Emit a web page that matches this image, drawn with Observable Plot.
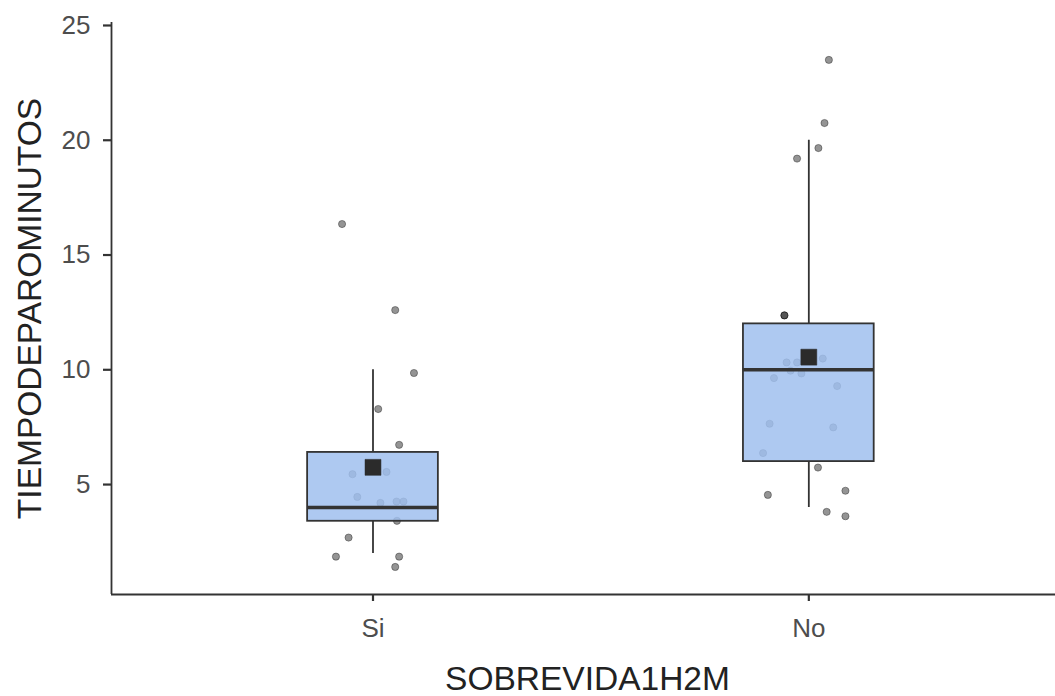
<!DOCTYPE html>
<html>
<head>
<meta charset="utf-8">
<script src="https://cdn.jsdelivr.net/npm/d3@7"></script>
<script src="https://cdn.jsdelivr.net/npm/@observablehq/plot@0.6"></script>
<style>
  html, body { margin: 0; padding: 0; background: #ffffff; }
  #chart svg { display: block; }
</style>
</head>
<body>
<div id="chart"></div>
<script>
// Categories and summary statistics
const categories = ["Si", "No"];
const whiskerLow = [2.0, 4.0];
const quartile1 = [3.4, 6.0];
const medians = [4.0, 10.0];
const quartile3 = [6.4, 12.0];
const whiskerHigh = [10.0, 20.0];
const means = [5.75, 10.55];

// Jittered observations: value and horizontal jitter (category units)
const siValues = [16.35, 12.60, 9.86, 8.29, 6.73, 5.45, 5.55, 4.46, 4.20, 4.26, 4.26, 3.42, 2.69, 1.86, 1.86, 1.41];
const siJitter = [-0.071, 0.051, 0.094, 0.012, 0.060, -0.047, 0.031, -0.036, 0.017, 0.054, 0.070, 0.055, -0.056, -0.085, 0.060, 0.051];
const noValues = [23.50, 20.75, 19.66, 19.20, 12.37, 12.37, 10.32, 10.32, 10.49, 9.96, 9.84, 9.64, 9.29, 7.65, 7.49, 6.37, 5.74, 4.55, 4.73, 3.81, 3.62];
const noJitter = [0.046, 0.036, 0.022, -0.027, -0.056, -0.056, -0.051, -0.027, 0.032, -0.042, -0.017, -0.080, 0.065, -0.090, 0.056, -0.105, 0.021, -0.094, 0.084, 0.041, 0.084];

const yTicks = [5, 10, 15, 20, 25];
const xTitle = "SOBREVIDA1H2M";
const yTitle = "TIEMPODEPAROMINUTOS";

// Build tables
const boxes = categories.map((c, i) => ({
  cat: c, pos: i + 1,
  lo: whiskerLow[i], q1: quartile1[i], med: medians[i], q3: quartile3[i], hi: whiskerHigh[i], mean: means[i]
}));
const points = [
  ...siValues.map((v, j) => ({pos: 1 + siJitter[j], value: v})),
  ...noValues.map((v, j) => ({pos: 2 + noJitter[j], value: v}))
];
const halfWidth = 0.15;
const xDomain = [0.4, 2.566];
const yDomain = [0.21, 25.13];
const axisColor = "#333333";

const chart = Plot.plot({
  width: 1055,
  height: 696,
  marginLeft: 111,
  marginRight: 0,
  marginTop: 22,
  marginBottom: 102,
  style: {fontFamily: "'Liberation Sans', Arial, sans-serif", background: "#ffffff"},
  x: {type: "linear", domain: xDomain},
  y: {type: "linear", domain: yDomain},
  marks: [
    // jittered points (under the box)
    Plot.dot(points, {x: "pos", y: "value", r: 3.6, fill: "#000", fillOpacity: 0.42, stroke: "#000", strokeOpacity: 0.35, strokeWidth: 1}),
    // whiskers
    Plot.ruleX(boxes, {x: "pos", y1: "q3", y2: "hi", stroke: axisColor, strokeWidth: 1.8}),
    Plot.ruleX(boxes, {x: "pos", y1: "lo", y2: "q1", stroke: axisColor, strokeWidth: 1.8}),
    // boxes
    Plot.rect(boxes, {x1: d => d.pos - halfWidth, x2: d => d.pos + halfWidth, y1: "q1", y2: "q3", fill: "#a0bfee", fillOpacity: 0.85, stroke: axisColor, strokeWidth: 1.8}),
    // medians
    Plot.ruleY(boxes, {y: "med", x1: d => d.pos - halfWidth, x2: d => d.pos + halfWidth, stroke: axisColor, strokeWidth: 3.4}),
    // means
    Plot.dot(boxes, {x: "pos", y: "mean", symbol: "square", r: 9, fill: "#2b2b2b", stroke: "#2b2b2b", strokeWidth: 0.5}),
    // axis lines
    Plot.ruleX([xDomain[0]], {stroke: axisColor, strokeWidth: 1.8}),
    Plot.ruleY([yDomain[0]], {stroke: axisColor, strokeWidth: 1.8}),
    // axes
    Plot.axisY(yTicks, {anchor: "left", tickSize: 8, tickPadding: 13, fontSize: 26, stroke: axisColor, strokeWidth: 2.2, color: "#4d4d4d", label: null}),
    Plot.axisX([1, 2], {anchor: "bottom", tickSize: 7, tickPadding: 17, fontSize: 26, stroke: axisColor, strokeWidth: 2.2, color: "#4d4d4d", tickFormat: d => categories[d - 1], label: null}),
    // axis titles
    Plot.text([xTitle], {frameAnchor: "bottom", textAnchor: "middle", dy: 85, dx: 4, lineAnchor: "middle", fontSize: 33.5, fill: "#222"}),
    Plot.text([yTitle], {frameAnchor: "left", textAnchor: "middle", dx: -81, rotate: -90, lineAnchor: "middle", fontSize: 33.5, fill: "#222"})
  ]
});
document.getElementById("chart").appendChild(chart);
</script>
</body>
</html>
